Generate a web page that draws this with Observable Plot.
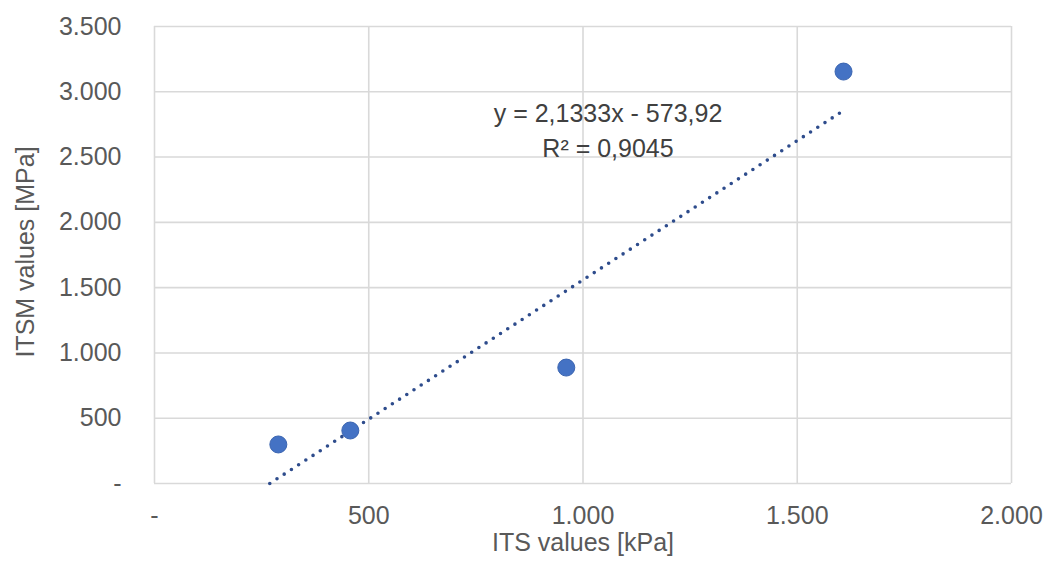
<!DOCTYPE html>
<html>
<head>
<meta charset="utf-8">
<script src="https://cdn.jsdelivr.net/npm/d3@7"></script>
<script src="https://cdn.jsdelivr.net/npm/@observablehq/plot@0.6"></script>
<style>
  html, body { margin: 0; padding: 0; background: #fff; }
  #chart svg { display: block; font-family: "Liberation Sans", Arial, sans-serif; }
</style>
</head>
<body>
<div id="chart"></div>
<script>
// ---- data ----
const itsValues  = [289, 457, 961, 1608];   // ITS [kPa]
const itsmValues = [299, 406, 888, 3155];   // ITSM [MPa]
const trendSlope = 2.1333;
const trendIntercept = -573.92;
const equationLabel = "y = 2,1333x - 573,92\nR² = 0,9045";
const xTicks = [0, 500, 1000, 1500, 2000];
const yTicks = [0, 500, 1000, 1500, 2000, 2500, 3000, 3500];
const xTitle = "ITS values [kPa]";
const yTitle = "ITSM values [MPa]";

const points = itsValues.map((x, i) => ({x, y: itsmValues[i]}));
// trendline from where it meets the x axis to the last data point
const xStart = -trendIntercept / trendSlope;
const xEnd = d3.max(itsValues);
const trend = [xStart, xEnd].map(x => ({x, y: trendSlope * x + trendIntercept}));

const loc = d3.formatLocale({decimal: ",", thousands: ".", grouping: [3], currency: ["", ""]});
const fmt = v => v === 0 ? "-" : loc.format(",")(v);

const grid = "#d9d9d9";
const tickColor = "#595959";
const fs = 25;

const chart = Plot.plot({
  width: 1048,
  height: 565,
  marginLeft: 154,
  marginRight: 37,
  marginTop: 26,
  marginBottom: 82,
  style: {background: "#fff", fontFamily: "Liberation Sans, Arial, sans-serif"},
  x: {domain: [0, 2000]},
  y: {domain: [0, 3500]},
  marks: [
    Plot.gridX(xTicks, {stroke: grid, strokeOpacity: 1, strokeWidth: 1.6}),
    Plot.gridY(yTicks, {stroke: grid, strokeOpacity: 1, strokeWidth: 1.6}),
    Plot.axisX(xTicks, {tickSize: 0, tickPadding: 23, tickFormat: fmt, fontSize: fs, fill: tickColor, label: null}),
    Plot.axisY(yTicks, {tickSize: 0, tickPadding: 33, tickFormat: fmt, fontSize: fs, fill: tickColor, label: null}),
    Plot.line(trend, {x: "x", y: "y", stroke: "#2E4C8C", strokeWidth: 3.6, strokeDasharray: "0 8.6", strokeLinecap: "round"}),
    Plot.dot(points, {x: "x", y: "y", r: 8.5, fill: "#4472C4", stroke: "#3A64B0", strokeWidth: 1}),
    Plot.text([equationLabel], {frameAnchor: "top", dx: 25, dy: 71, fontSize: fs, fill: "#404040", lineHeight: 1.4, text: d => d}),
    Plot.text([xTitle], {frameAnchor: "bottom", dy: 67, fontSize: fs, fill: tickColor, text: d => d}),
    Plot.text([yTitle], {frameAnchor: "left", textAnchor: "middle", dx: -129, dy: -3, rotate: -90, fontSize: fs, fill: tickColor, text: d => d})
  ]
});
document.getElementById("chart").append(chart);
</script>
</body>
</html>
